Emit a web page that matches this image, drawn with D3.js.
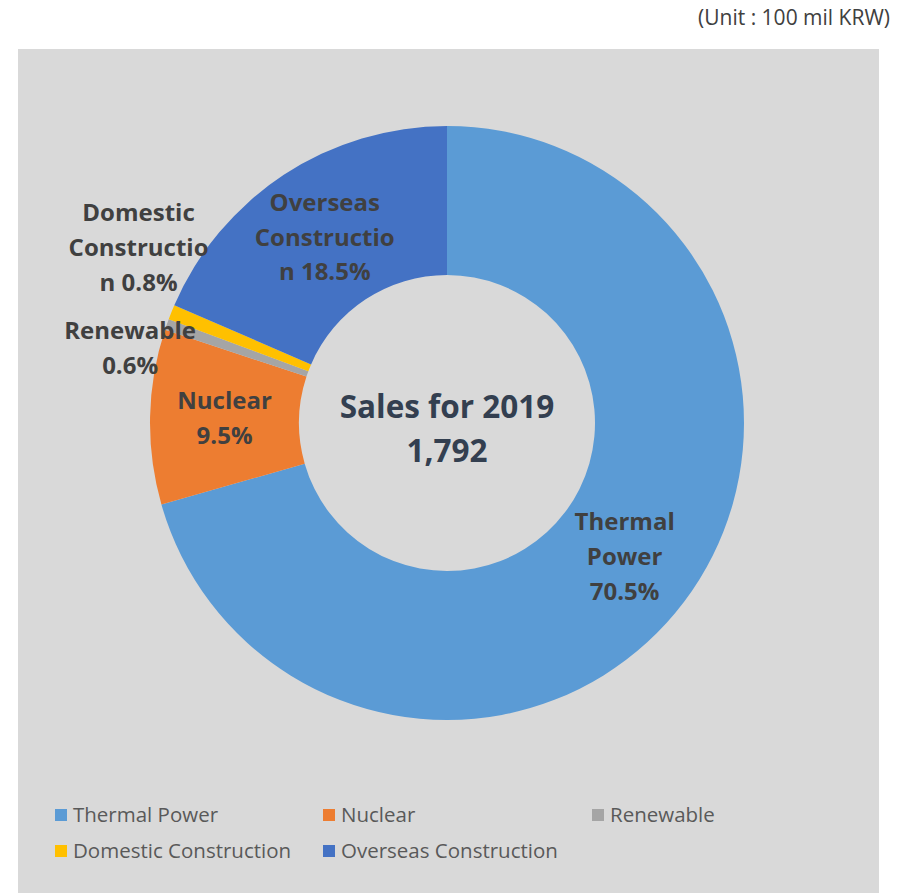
<!DOCTYPE html>
<html lang="en">
<head>
<meta charset="UTF-8">
<title>Sales for 2019</title>
<script src="https://d3js.org/d3.v7.min.js"></script>
<style>
    body { margin: 0; background: #fff; }
    text { font-family: "Open Sans", Lato, sans-serif; }
    .slice-label { font-weight: bold; fill: #404040; font-size: 24px; }
    .center-label { font-weight: bold; fill: #333f50; font-size: 31.5px; }
    .legend text { font-size: 20.5px; fill: #595959; }
    .unit { font-size: 21px; fill: #404040; }
</style>
</head>
<body>
<div id="chart"></div>
<script>
    // data (share of sales, %)
    var categories = ["Thermal Power", "Nuclear", "Renewable", "Domestic Construction", "Overseas Construction"];
    var shares = [70.5, 9.5, 0.6, 0.8, 18.5];
    var labelLines = [
        ["Thermal", "Power", "70.5%"],
        ["Nuclear", "9.5%"],
        ["Renewable", "0.6%"],
        ["Domestic", "Constructio", "n 0.8%"],
        ["Overseas", "Constructio", "n 18.5%"]
    ];
    var centerTitle = "Sales for 2019";
    var centerValue = "1,792";
    var unitText = "(Unit : 100 mil KRW)";

    var colors = ["#5b9bd5", "#ed7d31", "#a5a5a5", "#ffc000", "#4472c4"];
    // label shifts from slice centroid (small slices are labelled outside)
    var labelShift = [[0, 0], [0, 0], [-107, -1], [-102, -92], [0, 0]];

    var W = 898, H = 893;
    var cx = 447, cy = 423, outerR = 297, innerR = 148;

    var svg = d3.select("#chart").append("svg")
        .attr("width", W)
        .attr("height", H);

    svg.append("rect")
        .attr("x", 18).attr("y", 49)
        .attr("width", 861).attr("height", H - 49)
        .attr("fill", "#d9d9d9");

    svg.append("text")
        .attr("class", "unit")
        .attr("x", 890).attr("y", 25)
        .attr("text-anchor", "end")
        .text(unitText);

    var pie = d3.pie().sort(null).value(function(d) { return d; });
    var arc = d3.arc().innerRadius(innerR).outerRadius(outerR);

    var g = svg.append("g").attr("transform", "translate(" + cx + "," + cy + ")");
    var arcs = pie(shares);

    g.selectAll("path.slice")
        .data(arcs)
        .enter()
        .append("path")
        .attr("class", "slice")
        .attr("d", arc)
        .attr("fill", function(d, i) { return colors[i]; });

    var lineH = 35;
    var labels = g.selectAll("text.slice-label")
        .data(arcs)
        .enter()
        .append("text")
        .attr("class", "slice-label")
        .attr("text-anchor", "middle")
        .attr("transform", function(d, i) {
            var c = arc.centroid(d);
            return "translate(" + (c[0] + labelShift[i][0]) + "," + (c[1] + labelShift[i][1]) + ")";
        });

    labels.each(function(d, i) {
        var lines = labelLines[i];
        var t = d3.select(this);
        lines.forEach(function(s, k) {
            t.append("tspan")
                .attr("x", 0)
                .attr("y", (k - (lines.length - 1) / 2) * lineH)
                .attr("dy", "0.35em")
                .text(s);
        });
    });

    g.append("text").attr("class", "center-label")
        .attr("text-anchor", "middle")
        .attr("y", -16).attr("dy", "0.35em")
        .text(centerTitle);
    g.append("text").attr("class", "center-label")
        .attr("text-anchor", "middle")
        .attr("y", 28).attr("dy", "0.35em")
        .text(centerValue);

    // legend
    var legendX = [55, 323, 592];
    var legendY = [815, 851];
    var legend = svg.selectAll(".legend")
        .data(categories)
        .enter()
        .append("g")
        .attr("class", "legend")
        .attr("transform", function(d, i) {
            return "translate(" + legendX[i % 3] + "," + legendY[Math.floor(i / 3)] + ")";
        });
    legend.append("rect")
        .attr("x", 0).attr("y", -6)
        .attr("width", 12).attr("height", 12)
        .attr("fill", function(d, i) { return colors[i]; });
    legend.append("text")
        .attr("x", 18).attr("dy", "0.35em")
        .text(function(d) { return d; });
</script>
</body>
</html>
